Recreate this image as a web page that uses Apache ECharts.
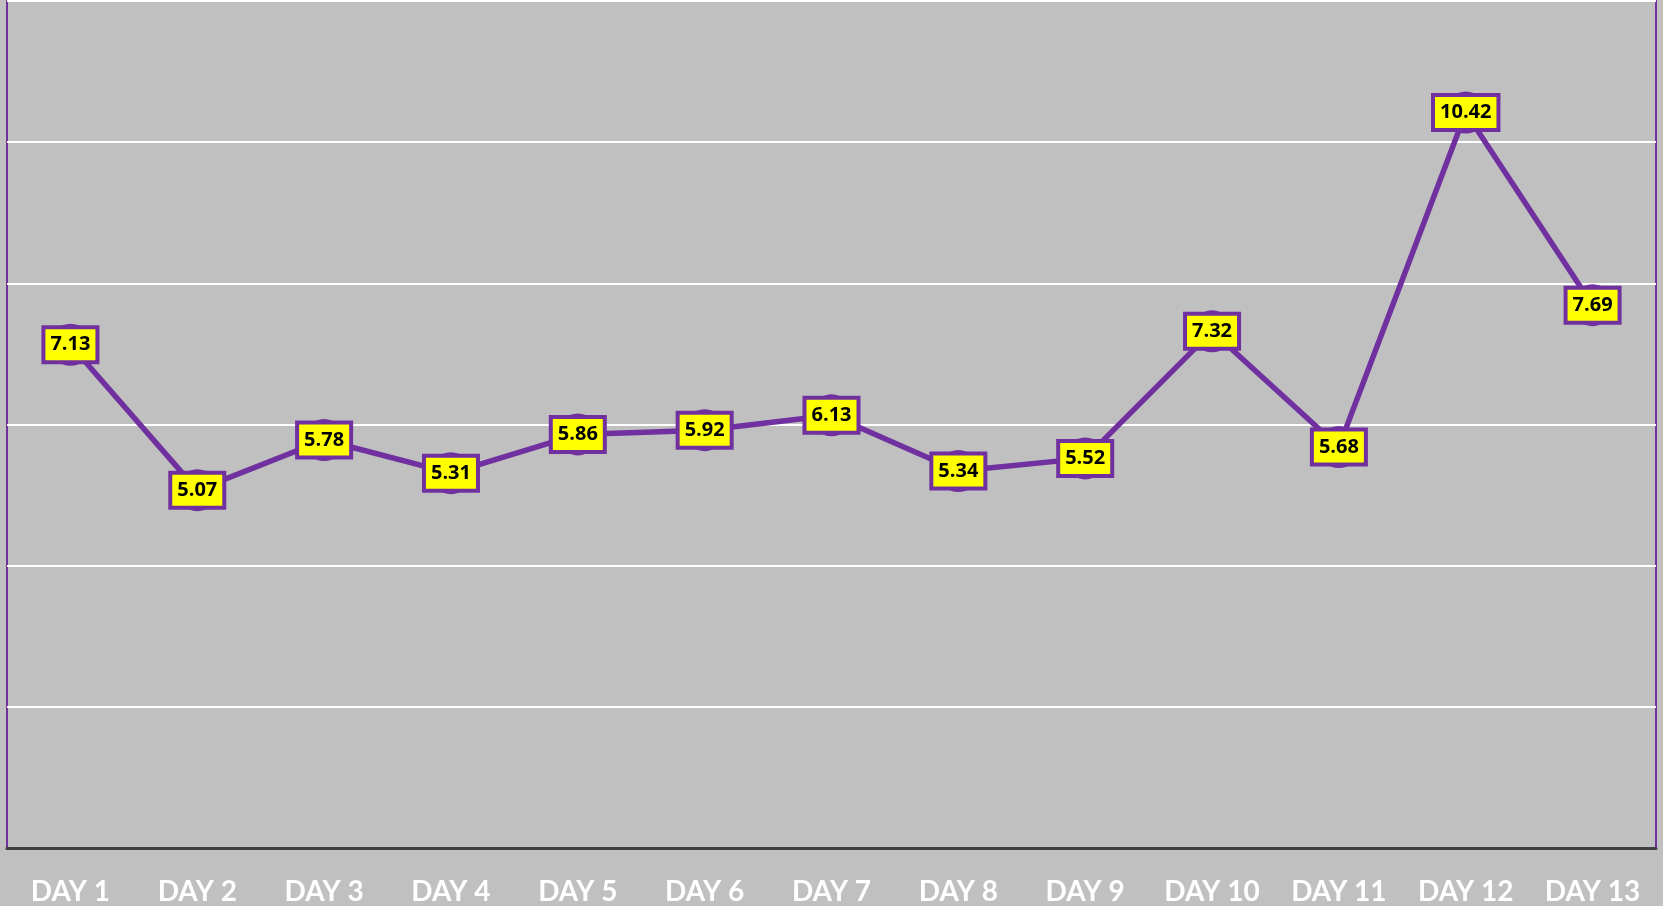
<!DOCTYPE html>
<html>
<head>
<meta charset="utf-8">
<script src="https://cdn.jsdelivr.net/npm/echarts@6/dist/echarts.min.js"></script>
<style>
  html, body { margin: 0; padding: 0; background: #c0c0c0; }
  #main { width: 1663px; height: 906px; }
</style>
</head>
<body>
<div id="main"></div>
<script>
var days = ['DAY 1', 'DAY 2', 'DAY 3', 'DAY 4', 'DAY 5', 'DAY 6', 'DAY 7',
    'DAY 8', 'DAY 9', 'DAY 10', 'DAY 11', 'DAY 12', 'DAY 13'];
var values = [7.13, 5.07, 5.78, 5.31, 5.86, 5.92, 6.13, 5.34, 5.52, 7.32, 5.68, 10.42, 7.69];

var purple = '#7030a0';

var myChart = echarts.init(document.getElementById('main'));
var option = {
    backgroundColor: '#c0c0c0',
    animation: false,
    grid: {
        left: 7,
        right: 7,
        top: 1,
        bottom: 58,
        show: true,
        borderColor: purple,
        borderWidth: 2,
        backgroundColor: 'transparent'
    },
    xAxis: {
        type: 'category',
        data: days,
        boundaryGap: true,
        axisLine: { show: true, lineStyle: { color: '#404040', width: 3 } },
        axisTick: { show: false },
        axisLabel: {
            color: '#ffffff',
            fontFamily: 'Lato',
            fontWeight: 'bold',
            fontSize: 28,
            margin: 30
        }
    },
    yAxis: {
        type: 'value',
        min: 0,
        max: 12,
        interval: 2,
        axisLine: { show: false },
        axisTick: { show: false },
        axisLabel: { show: false },
        splitLine: { lineStyle: { color: '#ffffff', width: 2 } }
    },
    series: [
        {
            name: 'value',
            type: 'line',
            data: values,
            symbol: 'circle',
            symbolSize: 42,
            itemStyle: { color: purple },
            lineStyle: { color: purple, width: 5.5 },
            label: {
                show: true,
                position: 'inside',
                formatter: function (p) { return p.value.toFixed(2); },
                color: '#000000',
                fontFamily: 'Open Sans',
                fontWeight: 'bold',
                fontSize: 20,
                lineHeight: 24,
                backgroundColor: '#ffff00',
                borderColor: purple,
                borderWidth: 4,
                padding: [4, 5, 3, 5]
            }
        }
    ]
};
myChart.setOption(option);
</script>
</body>
</html>
